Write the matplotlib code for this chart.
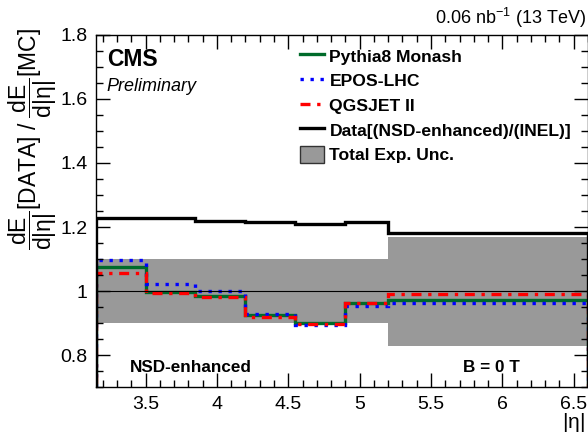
import numpy as np
import matplotlib
matplotlib.use("Agg")
from matplotlib import pyplot as plt
from matplotlib.patches import Patch
from matplotlib.lines import Line2D

plt.rcParams['font.family'] = ['Liberation Sans', 'DejaVu Sans']
plt.rcParams['mathtext.fontset'] = 'custom'
plt.rcParams['mathtext.rm'] = 'Liberation Sans'
plt.rcParams['mathtext.it'] = 'Liberation Sans'

# eta bins
edges = [3.152, 3.5, 3.85, 4.2, 4.55, 4.9, 5.2, 6.6]

# ratio data / MC
data_ratio = [1.227, 1.227, 1.220, 1.215, 1.209, 1.217, 1.182]
pythia = [1.074, 0.998, 0.984, 0.925, 0.899, 0.962, 0.972]
epos = [1.097, 1.021, 1.001, 0.927, 0.893, 0.953, 0.963]
qgsjet = [1.057, 0.993, 0.980, 0.920, 0.898, 0.964, 0.990]

# total experimental uncertainty around 1
unc_up = [1.10, 1.10, 1.10, 1.10, 1.10, 1.10, 1.17]
unc_down = [0.90, 0.90, 0.90, 0.90, 0.90, 0.90, 0.83]

yticks = [0.8, 1.0, 1.2, 1.4, 1.6, 1.8]
ytick_labels = ['0.8', '1', '1.2', '1.4', '1.6', '1.8']
xticks = [3.5, 4, 4.5, 5, 5.5, 6, 6.5]
xtick_labels = ['3.5', '4', '4.5', '5', '5.5', '6', '6.5']

fig = plt.figure(figsize=(5.88, 4.36), dpi=100)
ax = fig.add_axes([0.163, 0.112, 0.837, 0.808])

ax.stairs(unc_up, edges, baseline=unc_down, fill=True, color='#999999', lw=0)
ax.axhline(1.0, color='black', lw=0.8)
ax.stairs(pythia, edges, color='#006b2a', lw=2.4)
ax.stairs(epos, edges, color='#0000ff', lw=2.4, linestyle=(0, (1, 2)))
ax.stairs(qgsjet, edges, color='#ff0000', lw=2.4, linestyle=(0, (3, 2, 1, 2)))
ax.stairs(data_ratio, edges, color='black', lw=2.4)

ax.set_xlim(3.152, 6.6)
ax.set_ylim(0.7, 1.8)
ax.set_xticks(xticks)
ax.set_xticklabels(xtick_labels)
ax.set_yticks(yticks)
ax.set_yticklabels(ytick_labels)
ax.set_xticks(np.arange(3.2, 6.61, 0.1), minor=True)
ax.set_yticks(np.arange(0.7, 1.81, 0.05), minor=True)
ax.tick_params(which='both', direction='in', top=True, right=True, labelsize=14, width=1)
ax.tick_params(which='major', length=10, pad=6)
ax.tick_params(which='minor', length=5)
for s in ax.spines.values():
    s.set_linewidth(1)

ax.text(0.022, 0.93, 'CMS', transform=ax.transAxes, fontsize=16.5, fontweight='bold', va='center')
ax.text(0.022, 0.853, 'Preliminary', transform=ax.transAxes, fontsize=13, style='italic', va='center')
ax.text(0.07, 0.055, 'NSD-enhanced', transform=ax.transAxes, fontsize=12.3, fontweight='bold', va='center')
ax.text(0.745, 0.055, 'B = 0 T', transform=ax.transAxes, fontsize=12.3, fontweight='bold', va='center')

fig.text(0.997, 0.958, r'0.06 nb$^{-1}$ (13 TeV)', ha='right', va='center', fontsize=13)
fig.text(0.995, 0.004, r'|$\eta$|', ha='right', va='bottom', fontsize=15)
fig.text(0.012, 0.935, r'$\dfrac{dE}{d|\eta|}$[DATA] / $\dfrac{dE}{d|\eta|}$[MC]',
         rotation=90, ha='left', va='top', fontsize=16.5)

handles = [
    Line2D([], [], color='#006b2a', lw=2.4),
    Line2D([], [], color='#0000ff', lw=2.4, linestyle=(0, (1, 2))),
    Line2D([], [], color='#ff0000', lw=2.4, linestyle=(0, (3, 2, 1, 2))),
    Line2D([], [], color='black', lw=2.4),
    Patch(facecolor='#999999', edgecolor='#333333', lw=1),
]
labels = ['Pythia8 Monash', 'EPOS-LHC', 'QGSJET II', 'Data[(NSD-enhanced)/(INEL)]', 'Total Exp. Unc.']
leg = ax.legend(handles, labels, loc='upper left', bbox_to_anchor=(0.40, 0.985), frameon=False,
                prop={'weight': 'bold', 'size': 12.6}, handlelength=1.4, handleheight=1.1,
                handletextpad=0.3, labelspacing=0.42, borderaxespad=0)

fig.savefig('out.png', dpi=100)
